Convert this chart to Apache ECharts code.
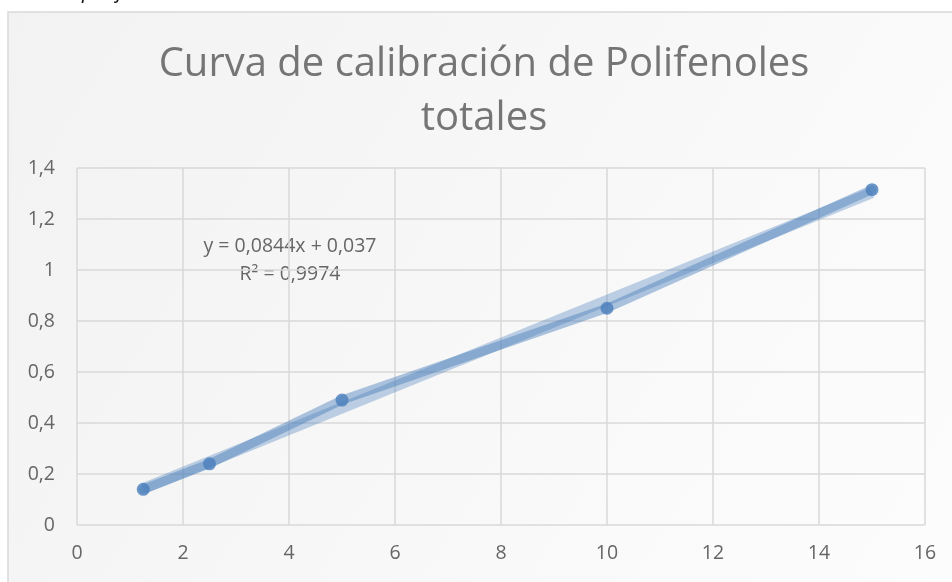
<!DOCTYPE html>
<html>
<head>
<meta charset="utf-8">
<script src="https://cdn.jsdelivr.net/npm/echarts@6/dist/echarts.min.js"></script>
<style>
  html, body { margin: 0; padding: 0; background: #fff; }
  #chart { width: 952px; height: 582px; }
</style>
</head>
<body>
<div id="chart"></div>
<script>
// datos
var concentracion = [1.25, 2.5, 5, 10, 15];
var absorbancia = [0.14, 0.24, 0.49, 0.85, 1.315];
// extremos de la linea de tendencia (y = 0,0844x + 0,037)
var tendenciaX = [1.25, 15];
var tendenciaY = [0.143, 1.303];
var ecuacion = 'y = 0,0844x + 0,037';
var r2 = 'R² = 0,9974';
var titulo = 'Curva de calibración de Polifenoles\ntotales';
var leyendaArriba = 'Curva de calibración de polifenoles totales';

var coma = function (v) { return String(v).replace('.', ','); };
var gris = '#666666';
var azul = '#4a7ebb';

var chart = echarts.init(document.getElementById('chart'));
var option = {
  backgroundColor: '#fff',
  textStyle: { fontFamily: 'Open Sans' },
  graphic: [
    {
      type: 'rect', z: -10, silent: true,
      shape: { x: 8, y: 12, width: 960, height: 600 },
      style: {
        stroke: '#d9d9d9', lineWidth: 1.5,
        fill: new echarts.graphic.LinearGradient(0, 0, 1, 1, [
          { offset: 0, color: '#f2f2f2' },
          { offset: 1, color: '#fdfdfd' }
        ])
      }
    },
    {
      type: 'text', x: 250, y: -18,
      style: { text: leyendaArriba, font: 'italic 21px "Open Sans"', fill: '#111', align: 'right', textAlign: 'right' }
    },
    {
      type: 'text', x: 484, y: 38,
      style: { text: titulo, font: '40px "Open Sans"', fill: '#757575', align: 'center', textAlign: 'center', lineHeight: 54 }
    },
    {
      type: 'text', x: 290, y: 260,
      style: { text: ecuacion + '\n' + r2, font: '19.5px "Open Sans"', fill: gris, align: 'center', textAlign: 'center', verticalAlign: 'middle', lineHeight: 28 }
    }
  ],
  grid: { left: 77, right: 27, top: 168, bottom: 57 },
  xAxis: {
    type: 'value', min: 0, max: 16, interval: 2,
    axisLine: { show: false }, axisTick: { show: false },
    axisLabel: { color: gris, fontSize: 19.5, margin: 18, formatter: coma },
    splitLine: { lineStyle: { color: '#d9d9d9', width: 1.5 } }
  },
  yAxis: {
    type: 'value', min: 0, max: 1.4, interval: 0.2,
    axisLine: { show: false }, axisTick: { show: false },
    axisLabel: { color: gris, fontSize: 19.5, margin: 22, formatter: coma },
    splitLine: { lineStyle: { color: '#d9d9d9', width: 1.5 } }
  },
  series: [
    {
      type: 'line', silent: true, symbol: 'none',
      data: tendenciaX.map(function (x, i) { return [x, tendenciaY[i]]; }),
      lineStyle: { color: 'rgba(74,126,187,0.35)', width: 11 }, z: 2
    },
    {
      type: 'line', silent: true, symbol: 'none',
      data: concentracion.map(function (x, i) { return [x, absorbancia[i]]; }),
      lineStyle: { color: 'rgba(74,126,187,0.45)', width: 9, cap: 'round', join: 'round' }, z: 3
    },
    {
      type: 'scatter', symbolSize: 13,
      data: concentracion.map(function (x, i) { return [x, absorbancia[i]]; }),
      itemStyle: { color: azul }, z: 5
    }
  ]
};
chart.setOption(option);
</script>
</body>
</html>
